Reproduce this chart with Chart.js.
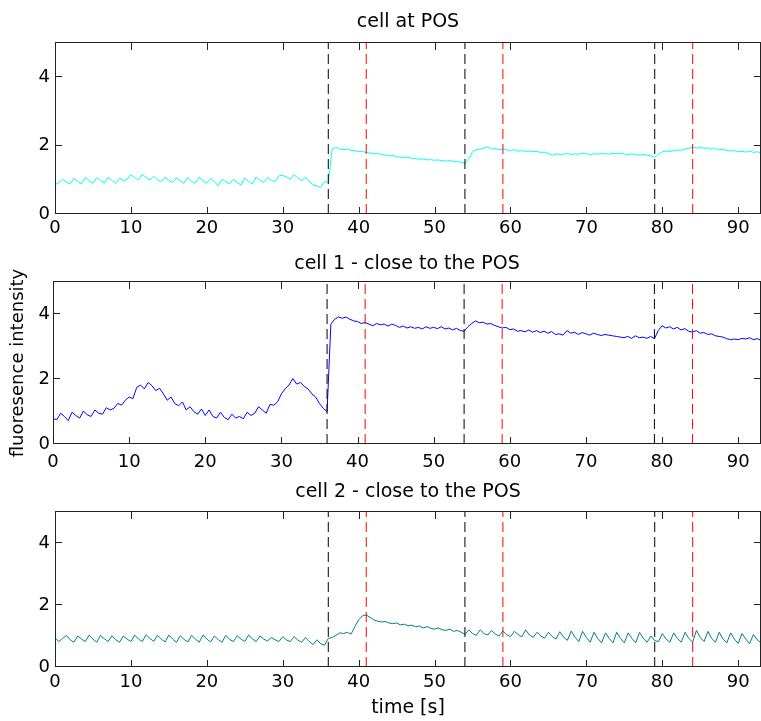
<!DOCTYPE html>
<html>
<head>
<meta charset="utf-8">
<script src="https://cdn.jsdelivr.net/npm/chart.js@4.4.1/dist/chart.umd.min.js"></script>
<style>
  body { margin: 0; background: #fff; }
  #wrap { position: relative; width: 761px; height: 721px; overflow: hidden; }
  canvas { position: absolute; left: 0; }
</style>
</head>
<body>
<div id="wrap">
  <canvas id="c1" width="761" height="245" style="top:0px"></canvas>
  <canvas id="c2" width="761" height="230" style="top:245px"></canvas>
  <canvas id="c3" width="761" height="246" style="top:475px"></canvas>
</div>
<script>
// sampling step of the traces, seconds
const timeStep = 0.5;

// cell at POS (cyan)
const cellPOS = [
  0.85, 0.92, 1.02, 0.93, 0.88, 1.05, 0.95, 0.88, 1.07, 0.97,
  0.90, 1.06, 0.98, 0.90, 1.08, 0.98, 0.90, 1.05, 0.97, 1.02,
  1.15, 1.06, 1.00, 1.16, 1.07, 1.00, 1.10, 1.00, 0.95, 1.08,
  0.98, 0.92, 1.06, 0.97, 0.90, 1.07, 0.96, 0.90, 1.08, 0.97,
  0.90, 1.04, 0.95, 0.82, 1.02, 0.94, 0.88, 1.02, 0.92, 0.84,
  1.05, 0.95, 0.88, 1.08, 0.98, 0.92, 1.07, 0.98, 0.95, 1.12,
  1.13, 1.08, 1.02, 1.15, 1.05, 0.97, 1.08, 0.95, 0.85, 0.82,
  0.78, 0.95, 0.92, 1.90, 1.95, 1.90, 1.88, 1.90, 1.86, 1.85,
  1.82, 1.83, 1.80, 1.78, 1.76, 1.77, 1.74, 1.72, 1.70, 1.71,
  1.68, 1.66, 1.65, 1.66, 1.63, 1.62, 1.60, 1.61, 1.58, 1.59,
  1.57, 1.58, 1.56, 1.55, 1.56, 1.54, 1.53, 1.52, 1.47, 1.62,
  1.82, 1.88, 1.90, 1.93, 1.96, 1.90, 1.91, 1.88, 1.90, 1.87,
  1.86, 1.88, 1.84, 1.85, 1.83, 1.84, 1.82, 1.83, 1.80, 1.81,
  1.77, 1.72, 1.76, 1.74, 1.75, 1.77, 1.74, 1.76, 1.75, 1.77,
  1.76, 1.74, 1.76, 1.75, 1.77, 1.76, 1.75, 1.77, 1.76, 1.78,
  1.75, 1.74, 1.76, 1.73, 1.72, 1.74, 1.72, 1.70, 1.66, 1.75,
  1.82, 1.84, 1.83, 1.86, 1.87, 1.86, 1.90, 1.92, 1.96, 1.93,
  1.94, 1.92, 1.93, 1.90, 1.91, 1.88, 1.89, 1.86, 1.84, 1.86,
  1.82, 1.83, 1.81, 1.84, 1.80, 1.82, 1.78
];

// cell 1 - close to the POS (blue)
const cell1 = [
  0.78, 0.75, 0.95, 0.85, 0.72, 0.98, 0.88, 0.80, 1.02, 0.90,
  0.85, 1.05, 0.95, 0.92, 1.12, 1.05, 1.10, 1.25, 1.20, 1.35,
  1.45, 1.40, 1.75, 1.82, 1.70, 1.90, 1.80, 1.65, 1.72, 1.55,
  1.35, 1.45, 1.25, 1.18, 1.30, 1.05, 1.15, 1.00, 0.92, 1.08,
  0.88, 1.05, 0.85, 0.80, 0.98, 0.82, 0.75, 0.92, 0.80, 0.85,
  0.78, 0.98, 0.88, 0.95, 1.15, 1.05, 0.95, 1.22, 1.20, 1.30,
  1.55, 1.70, 1.82, 2.02, 1.85, 1.90, 1.78, 1.70, 1.55, 1.45,
  1.25, 1.10, 1.00, 3.70, 3.85, 3.92, 3.88, 3.92, 3.85, 3.80,
  3.78, 3.72, 3.75, 3.70, 3.65, 3.72, 3.68, 3.70, 3.64, 3.70,
  3.66, 3.60, 3.64, 3.58, 3.62, 3.57, 3.60, 3.55, 3.62, 3.57,
  3.60, 3.56, 3.62, 3.55, 3.58, 3.52, 3.57, 3.50, 3.48, 3.62,
  3.72, 3.80, 3.74, 3.76, 3.70, 3.72, 3.66, 3.62, 3.58, 3.60,
  3.53, 3.55, 3.48, 3.50, 3.46, 3.52, 3.45, 3.50, 3.44, 3.48,
  3.42, 3.47, 3.38, 3.40, 3.36, 3.50, 3.42, 3.45, 3.38, 3.44,
  3.40, 3.36, 3.42, 3.38, 3.35, 3.38, 3.36, 3.34, 3.32, 3.30,
  3.28, 3.32, 3.26, 3.34, 3.28, 3.30, 3.26, 3.32, 3.25, 3.50,
  3.65, 3.58, 3.62, 3.55, 3.60, 3.52, 3.56, 3.48, 3.45, 3.50,
  3.42, 3.44, 3.38, 3.40, 3.34, 3.32, 3.30, 3.25, 3.22, 3.24,
  3.22, 3.26, 3.24, 3.28, 3.22, 3.25, 3.20
];

// cell 2 - close to the POS (teal)
const cell2 = [
  0.95, 0.82, 0.92, 1.02, 0.88, 0.80, 1.00, 0.90, 0.82, 1.03,
  0.90, 0.80, 1.02, 0.91, 0.82, 1.01, 0.88, 0.80, 1.00, 0.90,
  0.82, 1.03, 0.90, 0.82, 1.04, 0.92, 0.83, 1.02, 0.90, 0.81,
  1.03, 0.90, 0.80, 1.01, 0.89, 0.81, 1.02, 0.90, 0.80, 1.03,
  0.90, 0.81, 1.00, 0.88, 0.80, 1.02, 0.89, 0.82, 1.01, 0.90,
  0.82, 1.03, 0.91, 0.82, 1.00, 0.90, 0.84, 0.95, 0.88, 0.82,
  0.98, 0.87, 0.82, 0.98, 0.86, 0.80, 0.95, 0.82, 0.72, 0.88,
  0.75, 0.70, 0.92, 0.95, 1.02, 1.10, 1.08, 1.12, 1.06, 1.30,
  1.52, 1.65, 1.68, 1.60, 1.52, 1.48, 1.45, 1.47, 1.42, 1.40,
  1.42, 1.36, 1.38, 1.33, 1.35, 1.30, 1.32, 1.26, 1.30, 1.25,
  1.22, 1.26, 1.20, 1.18, 1.22, 1.15, 1.18, 1.12, 1.05, 1.20,
  1.08, 1.02, 1.20, 1.08, 1.03, 1.18, 1.06, 1.00, 1.16, 1.04,
  0.98, 1.15, 1.05, 0.97, 1.20, 1.03, 0.96, 1.12, 1.00, 0.93,
  1.12, 0.98, 0.90, 1.14, 0.96, 0.86, 1.16, 0.96, 0.82, 1.15,
  0.95, 0.80, 1.12, 0.92, 0.78, 1.10, 0.92, 0.78, 1.12, 0.92,
  0.78, 1.10, 0.92, 0.78, 1.12, 0.92, 0.80, 1.00, 0.85, 0.82,
  1.08, 0.90, 0.80, 1.10, 0.92, 0.80, 1.12, 0.92, 0.80, 1.18,
  0.95, 0.82, 1.15, 0.92, 0.80, 1.12, 0.90, 0.78, 1.10, 0.90,
  0.76, 1.08, 0.90, 0.75, 1.05, 0.88, 0.78
];

// stimulus marks, seconds
const blackMarks = [36, 54, 79];
const redMarks = [41, 59, 84];

const xTicks = [0, 10, 20, 30, 40, 50, 60, 70, 80, 90];
const yTicks = [0, 2, 4];
const xMax = 93;
const yMax = 5;

const FONT = "'DejaVu Sans', sans-serif";

// box + inward ticks like matlab
const frame = {
  id: 'frame',
  afterDatasetsDraw(chart) {
    const { ctx, chartArea: a, scales: { x, y } } = chart;
    const len = 7;
    ctx.save();
    ctx.strokeStyle = '#222';
    ctx.lineWidth = 1;
    ctx.beginPath();
    xTicks.forEach(v => {
      const px = Math.round(x.getPixelForValue(v)) + 0.5;
      ctx.moveTo(px, a.bottom); ctx.lineTo(px, a.bottom - len);
      ctx.moveTo(px, a.top); ctx.lineTo(px, a.top + len);
    });
    yTicks.forEach(v => {
      const py = Math.round(y.getPixelForValue(v)) - 0.5;
      ctx.moveTo(a.left, py); ctx.lineTo(a.left + len, py);
      ctx.moveTo(a.right, py); ctx.lineTo(a.right - len, py);
    });
    ctx.stroke();
    ctx.strokeRect(a.left + 0.5, a.top - 0.5, a.right - a.left - 1, a.bottom - a.top);
    ctx.restore();
  }
};

function markSets(marks, color) {
  return marks.map(m => ({
    data: [{ x: m, y: 0 }, { x: m, y: yMax }],
    borderColor: color,
    borderWidth: 1,
    borderDash: [10, 5],
    pointRadius: 0,
    order: 0
  }));
}

function makePanel(id, opt) {
  const series = opt.values.map((v, i) => ({ x: i * timeStep, y: v }));
  return new Chart(document.getElementById(id), {
    type: 'line',
    data: {
      datasets: [
        {
          data: series,
          borderColor: opt.color,
          borderWidth: 1,
          pointRadius: 0,
          tension: 0,
          order: 1
        },
        ...markSets(blackMarks, '#000000'),
        ...markSets(redMarks, '#ff0000')
      ]
    },
    options: {
      responsive: false,
      animation: false,
      events: [],
      layout: { padding: 0 },
      plugins: {
        legend: { display: false },
        tooltip: { enabled: false },
        title: {
          display: true,
          text: opt.title,
          fullSize: false,
          color: '#000',
          font: { family: FONT, size: 19, weight: 'normal' },
          padding: opt.titlePad
        }
      },
      scales: {
        x: {
          type: 'linear',
          min: 0,
          max: xMax,
          afterBuildTicks: s => { s.ticks = xTicks.map(v => ({ value: v })); },
          afterFit: s => { s.height = opt.xHeight; },
          grid: { display: false, drawTicks: false },
          border: { display: false },
          ticks: {
            color: '#000',
            padding: opt.xPad,
            maxRotation: 0,
            autoSkip: false,
            font: { family: FONT, size: 18 }
          },
          title: opt.xTitle ? {
            display: true,
            text: opt.xTitle,
            color: '#000',
            font: { family: FONT, size: 19 },
            padding: { top: 0, bottom: 2 }
          } : { display: false }
        },
        y: {
          type: 'linear',
          min: 0,
          max: yMax,
          afterBuildTicks: s => { s.ticks = yTicks.map(v => ({ value: v })); },
          afterFit: s => { s.width = opt.yWidth; },
          grid: { display: false, drawTicks: false },
          border: { display: false },
          ticks: {
            color: '#000',
            padding: opt.yPad,
            font: { family: FONT, size: 18 }
          },
          title: opt.yTitle ? {
            display: true,
            text: opt.yTitle,
            color: '#000',
            font: { family: FONT, size: 18 },
            padding: { top: 8, bottom: 0 }
          } : { display: false }
        }
      }
    },
    plugins: [frame]
  });
}

makePanel('c1', {
  title: 'cell at POS', values: cellPOS, color: '#00ffff',
  titlePad: { top: 11, bottom: 9.2 }, xHeight: 31, xPad: 4, yWidth: 55, yPad: 5
});
makePanel('c2', {
  title: 'cell 1 - close to the POS', values: cell1, color: '#0000ff',
  titlePad: { top: 7.6, bottom: 6.6 }, xHeight: 31, xPad: 8, yWidth: 53, yPad: 3,
  yTitle: 'fluoresence intensity'
});
makePanel('c3', {
  title: 'cell 2 - close to the POS', values: cell2, color: '#008080',
  titlePad: { top: 5.6, bottom: 8.6 }, xHeight: 54, xPad: 5, yWidth: 55, yPad: 5,
  xTitle: 'time [s]'
});
</script>
</body>
</html>
